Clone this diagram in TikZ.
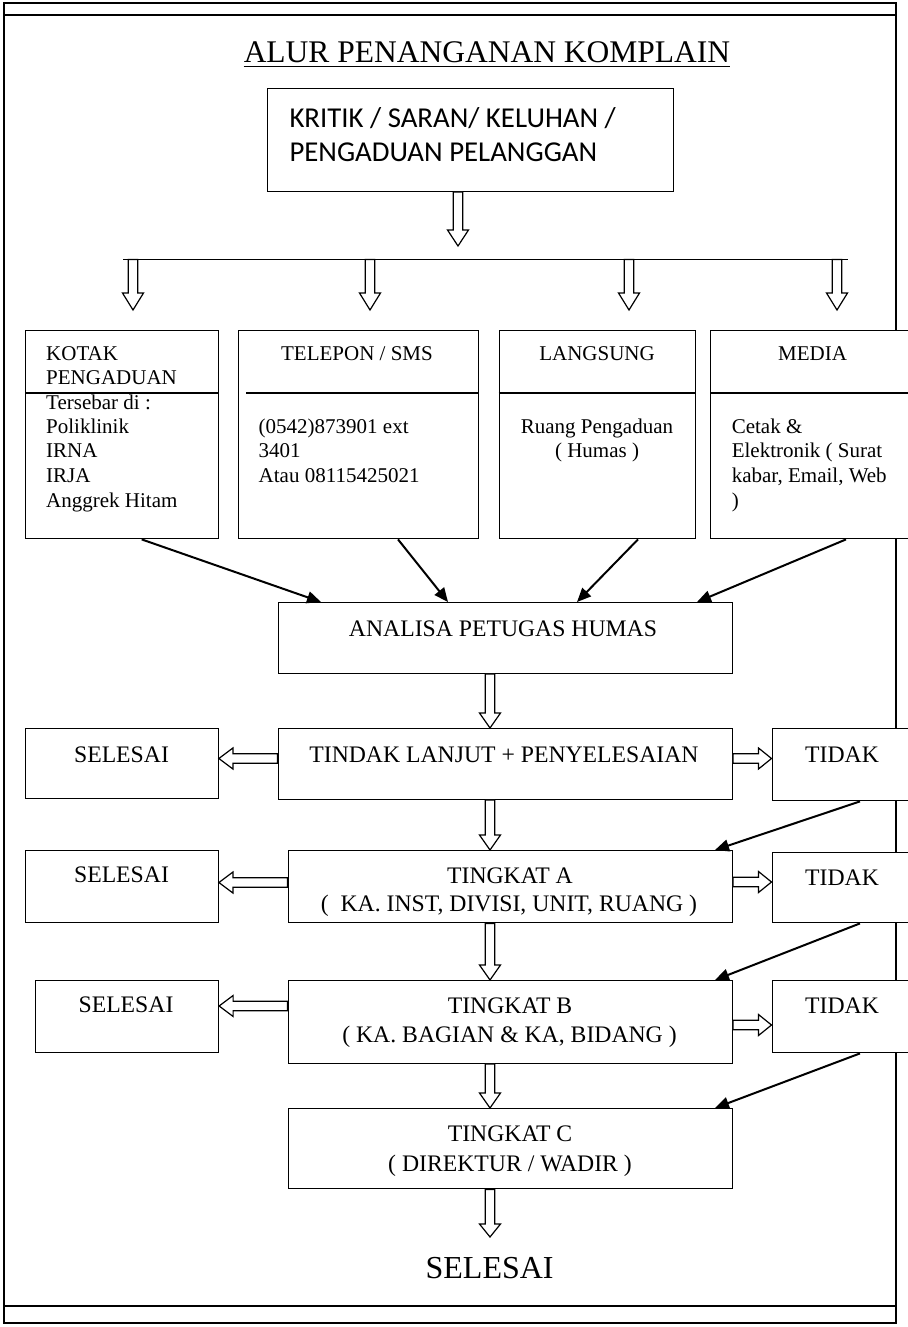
\documentclass[tikz,border=0pt]{standalone}
\usepackage{fontspec}
\setmainfont{Liberation Serif}
\newfontfamily\calib{Carlito}
\usetikzlibrary{calc,arrows.meta}

\newcommand\blockarrow[3][15pt]{%
  \coordinate (bah) at ($(#3)!#1!(#2)$);
  \draw[hollow] ($(#2)!4.75pt!90:(#3)$) -- ($(bah)!4.75pt!-90:(#2)$) -- ($(bah)!10.5pt!-90:(#2)$) -- (#3) -- ($(bah)!10.5pt!90:(#2)$) -- ($(bah)!4.75pt!90:(#2)$) -- ($(#2)!4.75pt!-90:(#3)$) -- cycle;}

\tikzset{
  frame/.style={line width=2.2pt},
  box/.style={draw, fill=white, line width=1.4pt, inner sep=0pt, anchor=north west},
  divider/.style={line width=1.4pt},
  hollow/.style={draw, fill=white, line width=1.2pt, line join=miter},
  conn/.style={line width=2pt, -{Triangle[length=14pt,width=12pt]}},
  s21/.style={font=\fontsize{21}{25}\selectfont, inner sep=0pt},
  s24/.style={font=\fontsize{23.7}{28}\selectfont, inner sep=0pt},
  ssans/.style={font=\calib\fontsize{28.8}{34}\selectfont, inner sep=0pt},
  sbig/.style={font=\fontsize{31.5}{36}\selectfont, inner sep=0pt},
}

\begin{document}
\begin{tikzpicture}[x=1pt, y=-1pt]
\useasboundingbox (0,0) rectangle (907,1327);

% frame
\draw[frame] (4,3) rectangle (896,1323);
\draw[frame] (4,15) -- (896,15);
\draw[frame] (4,1305.7) -- (896,1305.7);

% title
\node[sbig, anchor=base] (title) at (487,62.7) {ALUR PENANGANAN KOMPLAIN};
\draw[line width=1.5pt] ($(title.base west)+(0,4)$) -- ($(title.base east)+(0,4)$);

% boxes
\node[box, minimum width=406pt, minimum height=102.5pt] (kritik) at (267,88) {};
\node[box, minimum width=193pt, minimum height=208pt] (kotak) at (25,330) {};
\node[box, minimum width=240pt, minimum height=208pt] (telp) at (238,330) {};
\node[box, minimum width=196.5pt, minimum height=208pt] (lang) at (498.5,330) {};
\node[box, minimum width=220pt, minimum height=208pt] (media) at (710,330) {};
\node[box, minimum width=454pt, minimum height=70.5pt] (analisa) at (277.5,602) {};
\node[box, minimum width=454pt, minimum height=70.5pt] (tindak) at (277.5,728) {};
\node[box, minimum width=192.5pt, minimum height=70pt] (sel1) at (25,728) {};
\node[box, minimum width=160pt, minimum height=72pt] (tidak1) at (771.5,728) {};
\node[box, minimum width=444pt, minimum height=72pt] (tA) at (287.5,850) {};
\node[box, minimum width=192.5pt, minimum height=72pt] (sel2) at (25,850) {};
\node[box, minimum width=160pt, minimum height=70pt] (tidak2) at (771.5,852) {};
\node[box, minimum width=444pt, minimum height=82.5pt] (tB) at (287.5,980) {};
\node[box, minimum width=183pt, minimum height=72pt] (sel3) at (34.7,980) {};
\node[box, minimum width=160pt, minimum height=72pt] (tidak3) at (771.5,980) {};
\node[box, minimum width=444pt, minimum height=80pt] (tC) at (287.5,1108) {};

% dividers
\draw[divider] (kotak.west |- 0,393) -- (kotak.east |- 0,393);
\draw[divider] (246,393) -- (telp.east |- 0,393);
\draw[divider] (lang.west |- 0,393) -- (lang.east |- 0,393);
\draw[divider] (media.west |- 0,393) -- (media.east |- 0,393);

% texts
\node[ssans, anchor=base west] (kr1) at (289.3,127.3) {KRITIK / SARAN/ KELUHAN /};
\node[ssans, anchor=base west] (kr2) at (289.3,161.7) {PENGADUAN PELANGGAN};

\node[s21, anchor=base west] (ko1) at (46,360) {KOTAK};
\node[s21, anchor=base west] (ko2) at (46,384) {PENGADUAN};
\node[s21, anchor=base west] (ko3) at (46,409) {Tersebar di :};
\node[s21, anchor=base west] (ko4) at (46,433) {Poliklinik};
\node[s21, anchor=base west] (ko5) at (46,457) {IRNA};
\node[s21, anchor=base west] (ko6) at (46,482) {IRJA};
\node[s21, anchor=base west] (ko7) at (46,507) {Anggrek Hitam};

\node[s21, anchor=base] (teT) at (357,360) {TELEPON / SMS};
\node[s21, anchor=base west] (te1) at (258.5,433) {(0542)873901 ext};
\node[s21, anchor=base west] (te2) at (258.5,457) {3401};
\node[s21, anchor=base west] (te3) at (258.5,482) {Atau 08115425021};

\node[s21, anchor=base] (laT) at (597,360) {LANGSUNG};
\node[s21, anchor=base] (la1) at (597,433) {Ruang Pengaduan};
\node[s21, anchor=base] (la2) at (597,457) {( Humas )};

\node[s21, anchor=base] (meT) at (812.5,360) {MEDIA};
\node[s21, anchor=base west] (me1) at (731.6,433) {Cetak \&};
\node[s21, anchor=base west] (me2) at (731.6,457) {Elektronik ( Surat};
\node[s21, anchor=base west] (me3) at (731.6,482) {kabar, Email, Web};
\node[s21, anchor=base west] (me4) at (731.6,507) {)};

\node[s24, anchor=base] (anT) at (503,636.7) {ANALISA PETUGAS HUMAS};
\node[s24, anchor=base] (tiT) at (504,762) {TINDAK LANJUT + PENYELESAIAN};
\node[s24, anchor=base] (s1T) at (121.5,762) {SELESAI};
\node[s24, anchor=base] (d1T) at (842,762) {TIDAK};
\node[s24, anchor=base] (tA1) at (510,883) {TINGKAT A};
\node[s24, anchor=base] (tA2) at (509,911) {(~~KA. INST, DIVISI, UNIT, RUANG )};
\node[s24, anchor=base] (s2T) at (121.5,882) {SELESAI};
\node[s24, anchor=base] (d2T) at (842,885) {TIDAK};
\node[s24, anchor=base] (tB1) at (510,1013) {TINGKAT B};
\node[s24, anchor=base] (tB2) at (509.5,1042.7) {( KA. BAGIAN \& KA, BIDANG )};
\node[s24, anchor=base] (s3T) at (126,1012) {SELESAI};
\node[s24, anchor=base] (d3T) at (842,1013) {TIDAK};
\node[s24, anchor=base] (tC1) at (510,1141.7) {TINGKAT C};
\node[s24, anchor=base] (tC2) at (510,1171.7) {( DIREKTUR / WADIR )};
\node[sbig, font=\fontsize{32}{36}\selectfont, anchor=base] (fin) at (489.6,1278) {SELESAI};

% distribution line and hollow arrows
\coordinate (hl) at (123,259.5);
\coordinate (hr) at (848,259.5);
\coordinate (k1) at (458,246);
\coordinate (d1) at (133,310);
\coordinate (d2) at (370,310);
\coordinate (d3) at (629,310);
\coordinate (d4) at (837,310);
\coordinate (endtip) at (490,1237);
\draw[line width=1.6pt] (hl) -- (hr);
\blockarrow[16pt]{kritik.south -| k1}{k1}
\blockarrow[17pt]{hl -| d1}{d1}
\blockarrow[17pt]{hl -| d2}{d2}
\blockarrow[17pt]{hl -| d3}{d3}
\blockarrow[17pt]{hl -| d4}{d4}
\blockarrow{analisa.south -| 490,0}{tindak.north -| 490,0}
\blockarrow[14pt]{tindak.west |- 0,758.5}{sel1.east |- 0,758.5}
\blockarrow[13pt]{tindak.east |- 0,758.5}{tidak1.west |- 0,758.5}
\blockarrow{tindak.south -| 490,0}{tA.north -| 490,0}
\blockarrow[14pt]{tA.west |- 0,882.5}{sel2.east |- 0,882.5}
\blockarrow[13pt]{tA.east |- 0,882}{tidak2.west |- 0,882}
\blockarrow{tA.south -| 490,0}{tB.north -| 490,0}
\blockarrow[14pt]{tB.west |- 0,1006}{sel3.east |- 0,1006}
\blockarrow[13pt]{tB.east |- 0,1025}{tidak3.west |- 0,1025}
\blockarrow{tB.south -| 490,0}{tC.north -| 490,0}
\blockarrow[13pt]{tC.south -| endtip}{endtip}

% connectors with filled heads
\draw[conn] (kotak.south -| 141.7,0) -- (analisa.north -| 321,0);
\draw[conn] (telp.south -| 398,0) -- (analisa.north -| 448,0);
\draw[conn] (lang.south -| 638,0) -- (analisa.north -| 577,0);
\draw[conn] (media.south -| 846,0) -- (analisa.north -| 697,0);
\draw[conn] (tidak1.south -| 860,0) -- (tA.north -| 715,0);
\draw[conn] (tidak2.south -| 860,0) -- (tB.north -| 715,0);
\draw[conn] (tidak3.south -| 860,0) -- (tC.north -| 715,0);
\end{tikzpicture}
\end{document}
